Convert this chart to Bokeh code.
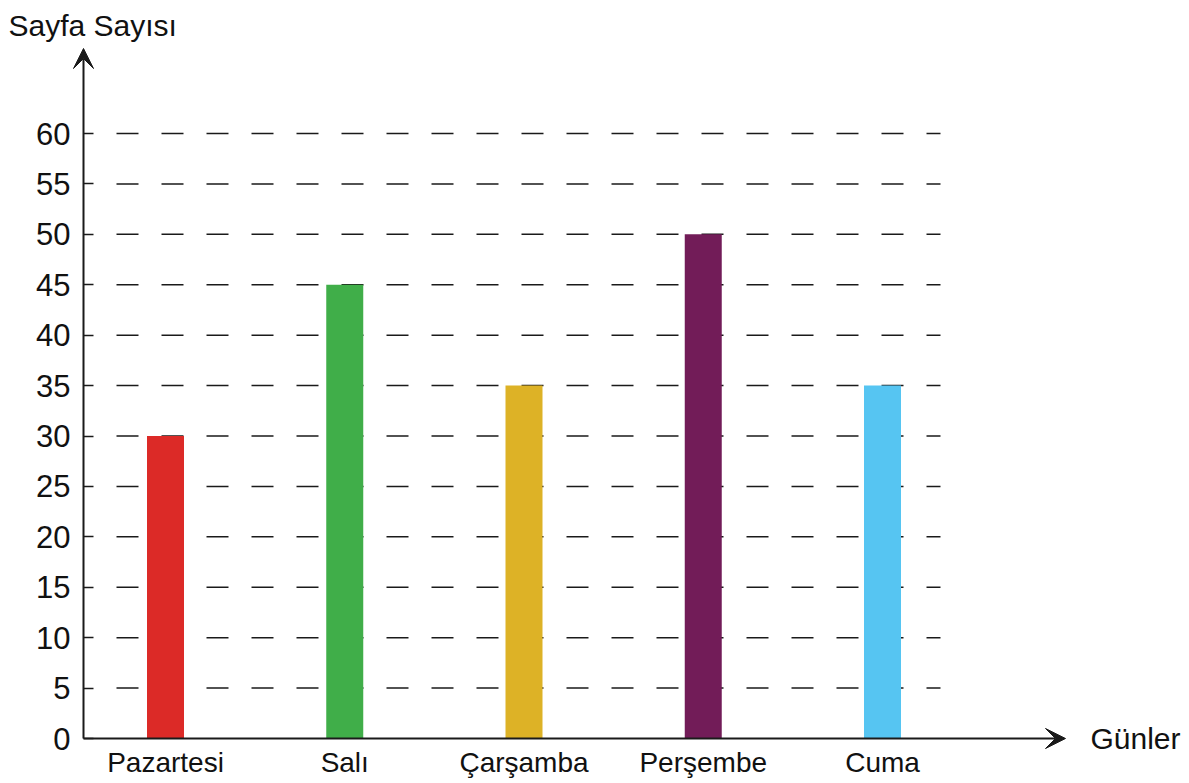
from bokeh.plotting import figure
from bokeh.models import Range1d, FixedTicker, Label, Arrow, VeeHead, ColumnDataSource
from bokeh.core.properties import value
from bokeh.embed import file_html
from bokeh.resources import INLINE

# ---- data ----
days = ["Pazartesi", "Salı", "Çarşamba", "Perşembe", "Cuma"]
pages = [30, 45, 35, 50, 35]
colors = ["#DC2A27", "#40AE49", "#DDB226", "#721C58", "#56C5F2"]
y_ticks = [0, 5, 10, 15, 20, 25, 30, 35, 40, 45, 50, 55, 60]
y_title = "Sayfa Sayısı"
x_title = "Günler"

FONT = "Liberation Sans"
INK = "#1a1a1a"

# ---- layout (pixel geometry) ----
W, H = 1181, 783
left_b, top_b = 20, 45
axis_px = 83                   # y-axis line position
frame_w = W - left_b
frame_h = H - top_b
base_px = 738 - top_b          # x-axis baseline, pixels below frame top
px_x = 179.25                  # pixels per category step
px_y = 10.083                  # pixels per page unit
x_axis = -82.0 / px_x          # y-axis position relative to first bar centre
x_start = x_axis - (axis_px - left_b) / px_x
x_end = x_start + frame_w / px_x
y_start = -(frame_h - base_px) / px_y
y_end = base_px / px_y

idx = list(range(len(days)))

p = figure(width=W, height=H, output_backend="svg", toolbar_location=None,
           x_range=Range1d(x_start, x_end), y_range=Range1d(y_start, y_end),
           min_border_left=left_b, min_border_right=0, min_border_top=top_b,
           min_border_bottom=0)
p.outline_line_color = None
p.background_fill_color = "white"
p.border_fill_color = "white"
p.xgrid.visible = False
p.ygrid.visible = False
p.xaxis.visible = False

# title (y axis name)
p.title.text = y_title
p.title.align = "left"
p.title.vertical_align = "top"
p.title.offset = -(left_b - 8)
p.title.text_font = FONT
p.title.text_font_size = "30px"
p.title.text_font_style = "normal"
p.title.text_color = "#111111"
p.title.standoff = 4

# dashed guide lines
gx0 = x_axis + 33 / px_x
gx1 = x_axis + 857 / px_x
n = len(y_ticks) - 1
p.segment(x0=[gx0] * n, x1=[gx1] * n, y0=y_ticks[1:], y1=y_ticks[1:],
          line_color=INK, line_width=1.5, line_dash="22 23")

# bars
src = ColumnDataSource(dict(x=idx, top=pages, color=colors, day=days))
p.vbar(x="x", top="top", bottom=0, width=37 / px_x, fill_color="color",
       line_color=None, source=src)

# category labels
p.text(x="x", y=0, text="day", source=src, text_font=value(FONT),
       text_font_size="28px", text_color="#111111", text_align="center",
       text_baseline="top", y_offset=8)

# y axis styling
p.yaxis.fixed_location = x_axis
p.yaxis.ticker = FixedTicker(ticks=y_ticks)
p.yaxis.axis_line_color = None
p.yaxis.major_tick_in = 10
p.yaxis.major_tick_out = 0
p.yaxis.major_tick_line_color = INK
p.yaxis.major_tick_line_width = 1.5
p.yaxis.minor_tick_line_color = None
p.yaxis.major_label_standoff = 13
p.yaxis.major_label_text_font = FONT
p.yaxis.major_label_text_font_size = "31px"
p.yaxis.major_label_text_color = "#111111"

# axis arrows
p.add_layout(Arrow(x_start=x_axis, y_start=0, x_end=x_axis + 982 / px_x, y_end=0,
                   line_color=INK, line_width=2,
                   end=VeeHead(size=20, fill_color=INK, line_color=INK)))
p.add_layout(Arrow(x_start=x_axis, y_start=0, x_end=x_axis, y_end=690 / px_y,
                   line_color=INK, line_width=2,
                   end=VeeHead(size=20, fill_color=INK, line_color=INK)))

# x axis name
p.add_layout(Label(x=x_axis + 1007 / px_x, y=0, text=x_title,
                   text_font=FONT, text_font_size="30px", text_color="#111111",
                   text_baseline="middle", text_align="left"))

open("out.html", "w").write(file_html(p, INLINE))
